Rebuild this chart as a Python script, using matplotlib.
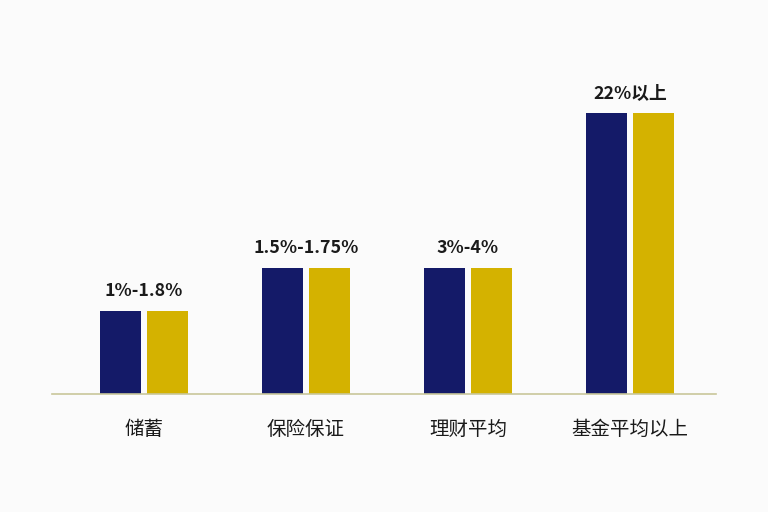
import numpy as np
import matplotlib
matplotlib.use("Agg")
from matplotlib import pyplot as plt

plt.rcParams['font.family'] = ['Noto Sans CJK SC', 'DejaVu Sans']

categories = ['储蓄', '保险保证', '理财平均', '基金平均以上']
value_labels = ['1%-1.8%', '1.5%-1.75%', '3%-4%', '22%以上']
heights_a = [0.83, 1.26, 1.26, 2.81]
heights_b = [0.83, 1.26, 1.26, 2.81]

navy = '#141a68'
gold = '#d4b200'
bg = '#fbfbfb'

fig = plt.figure(figsize=(7.68, 5.12), dpi=100, facecolor=bg)
ax = fig.add_axes([52/768, 118/512, 664/768, 344/512], facecolor=bg)

x = np.arange(len(categories))
w = 0.253
off = 0.145
ax.bar(x - off, heights_a, width=w, color=navy)
ax.bar(x + off, heights_b, width=w, color=gold)

for xi, h, lab in zip(x, heights_a, value_labels):
    ax.text(xi, h + 0.11, lab, ha='center', va='bottom',
            fontsize=12.8, fontweight='bold', color='#1a1a1a')

ax.set_xlim(-0.568, 3.531)
ax.set_ylim(0, 3.44)
ax.set_xticks(x)
ax.set_xticklabels(categories, fontsize=14, color='#1a1a1a', fontweight='medium')
ax.tick_params(axis='x', length=0, pad=18)
ax.set_yticks([])
for s in ['top', 'right', 'left']:
    ax.spines[s].set_visible(False)
ax.spines['bottom'].set_color('#c9c79a')
ax.spines['bottom'].set_linewidth(1.2)

fig.savefig('out.png', dpi=100, facecolor=bg)
